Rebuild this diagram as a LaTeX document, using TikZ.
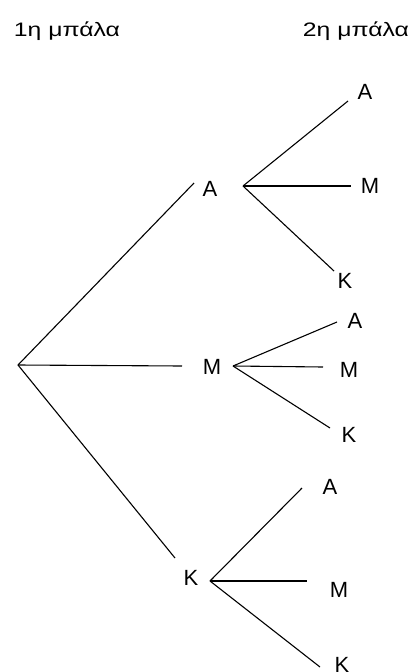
\documentclass[tikz,border=0pt]{standalone}
\usepackage{fontspec}
\setmainfont{Liberation Sans}
\begin{document}
\begin{tikzpicture}[x=1pt,y=-1pt,
  lbl/.style={inner sep=0pt,font=\fontsize{22}{24}\selectfont},
  hdr/.style={inner sep=0pt,font=\fontsize{19.5}{22}\selectfont},
  branch/.style={line width=1.1pt,black}]
\useasboundingbox (0,0) rectangle (417,672);
\node[hdr] (h1) at (67,31) {\scalebox{1.27}[1]{1η μπάλα}};
\node[hdr] (h2) at (356,31) {\scalebox{1.27}[1]{2η μπάλα}};
\coordinate (root) at (18,365);
% first level
\node[lbl] (a1) at (210,189) {Α};
\node[lbl] (m1) at (212,367) {Μ};
\node[lbl] (k1) at (191,578) {Κ};
\coordinate (a1e) at (194,183);
\coordinate (m1e) at (182,366);
\coordinate (k1e) at (175,558);
\coordinate (a1s) at (243,186);
\coordinate (m1s) at (233,366);
\coordinate (k1s) at (210,581);
\draw[branch] (root) -- (a1e);
\draw[branch] (root) -- (m1e);
\draw[branch] (root) -- (k1e);
% second level from A
\node[lbl] (aa) at (365,92) {Α};
\node[lbl] (am) at (370,186) {Μ};
\node[lbl] (ak) at (345,281) {Κ};
\coordinate (aae) at (348,101);
\coordinate (ame) at (351,186);
\coordinate (ake) at (334,271);
\draw[branch] (a1s) -- (aae);
\draw[branch] (a1s) -- (ame);
\draw[branch] (a1s) -- (ake);
% second level from M
\node[lbl] (ma) at (355,321) {Α};
\node[lbl] (mm) at (349,370) {Μ};
\node[lbl] (mk) at (349,435) {Κ};
\coordinate (mae) at (337,322);
\coordinate (mme) at (323,367);
\coordinate (mke) at (330,428);
\draw[branch] (m1s) -- (mae);
\draw[branch] (m1s) -- (mme);
\draw[branch] (m1s) -- (mke);
% second level from K
\node[lbl] (ka) at (330,487) {Α};
\node[lbl] (km) at (339,590) {Μ};
\node[lbl] (kk) at (342,665) {Κ};
\coordinate (kae) at (302,488);
\coordinate (kme) at (307,581);
\coordinate (kke) at (320,667);
\draw[branch] (k1s) -- (kae);
\draw[branch] (k1s) -- (kme);
\draw[branch] (k1s) -- (kke);
\end{tikzpicture}
\end{document}
